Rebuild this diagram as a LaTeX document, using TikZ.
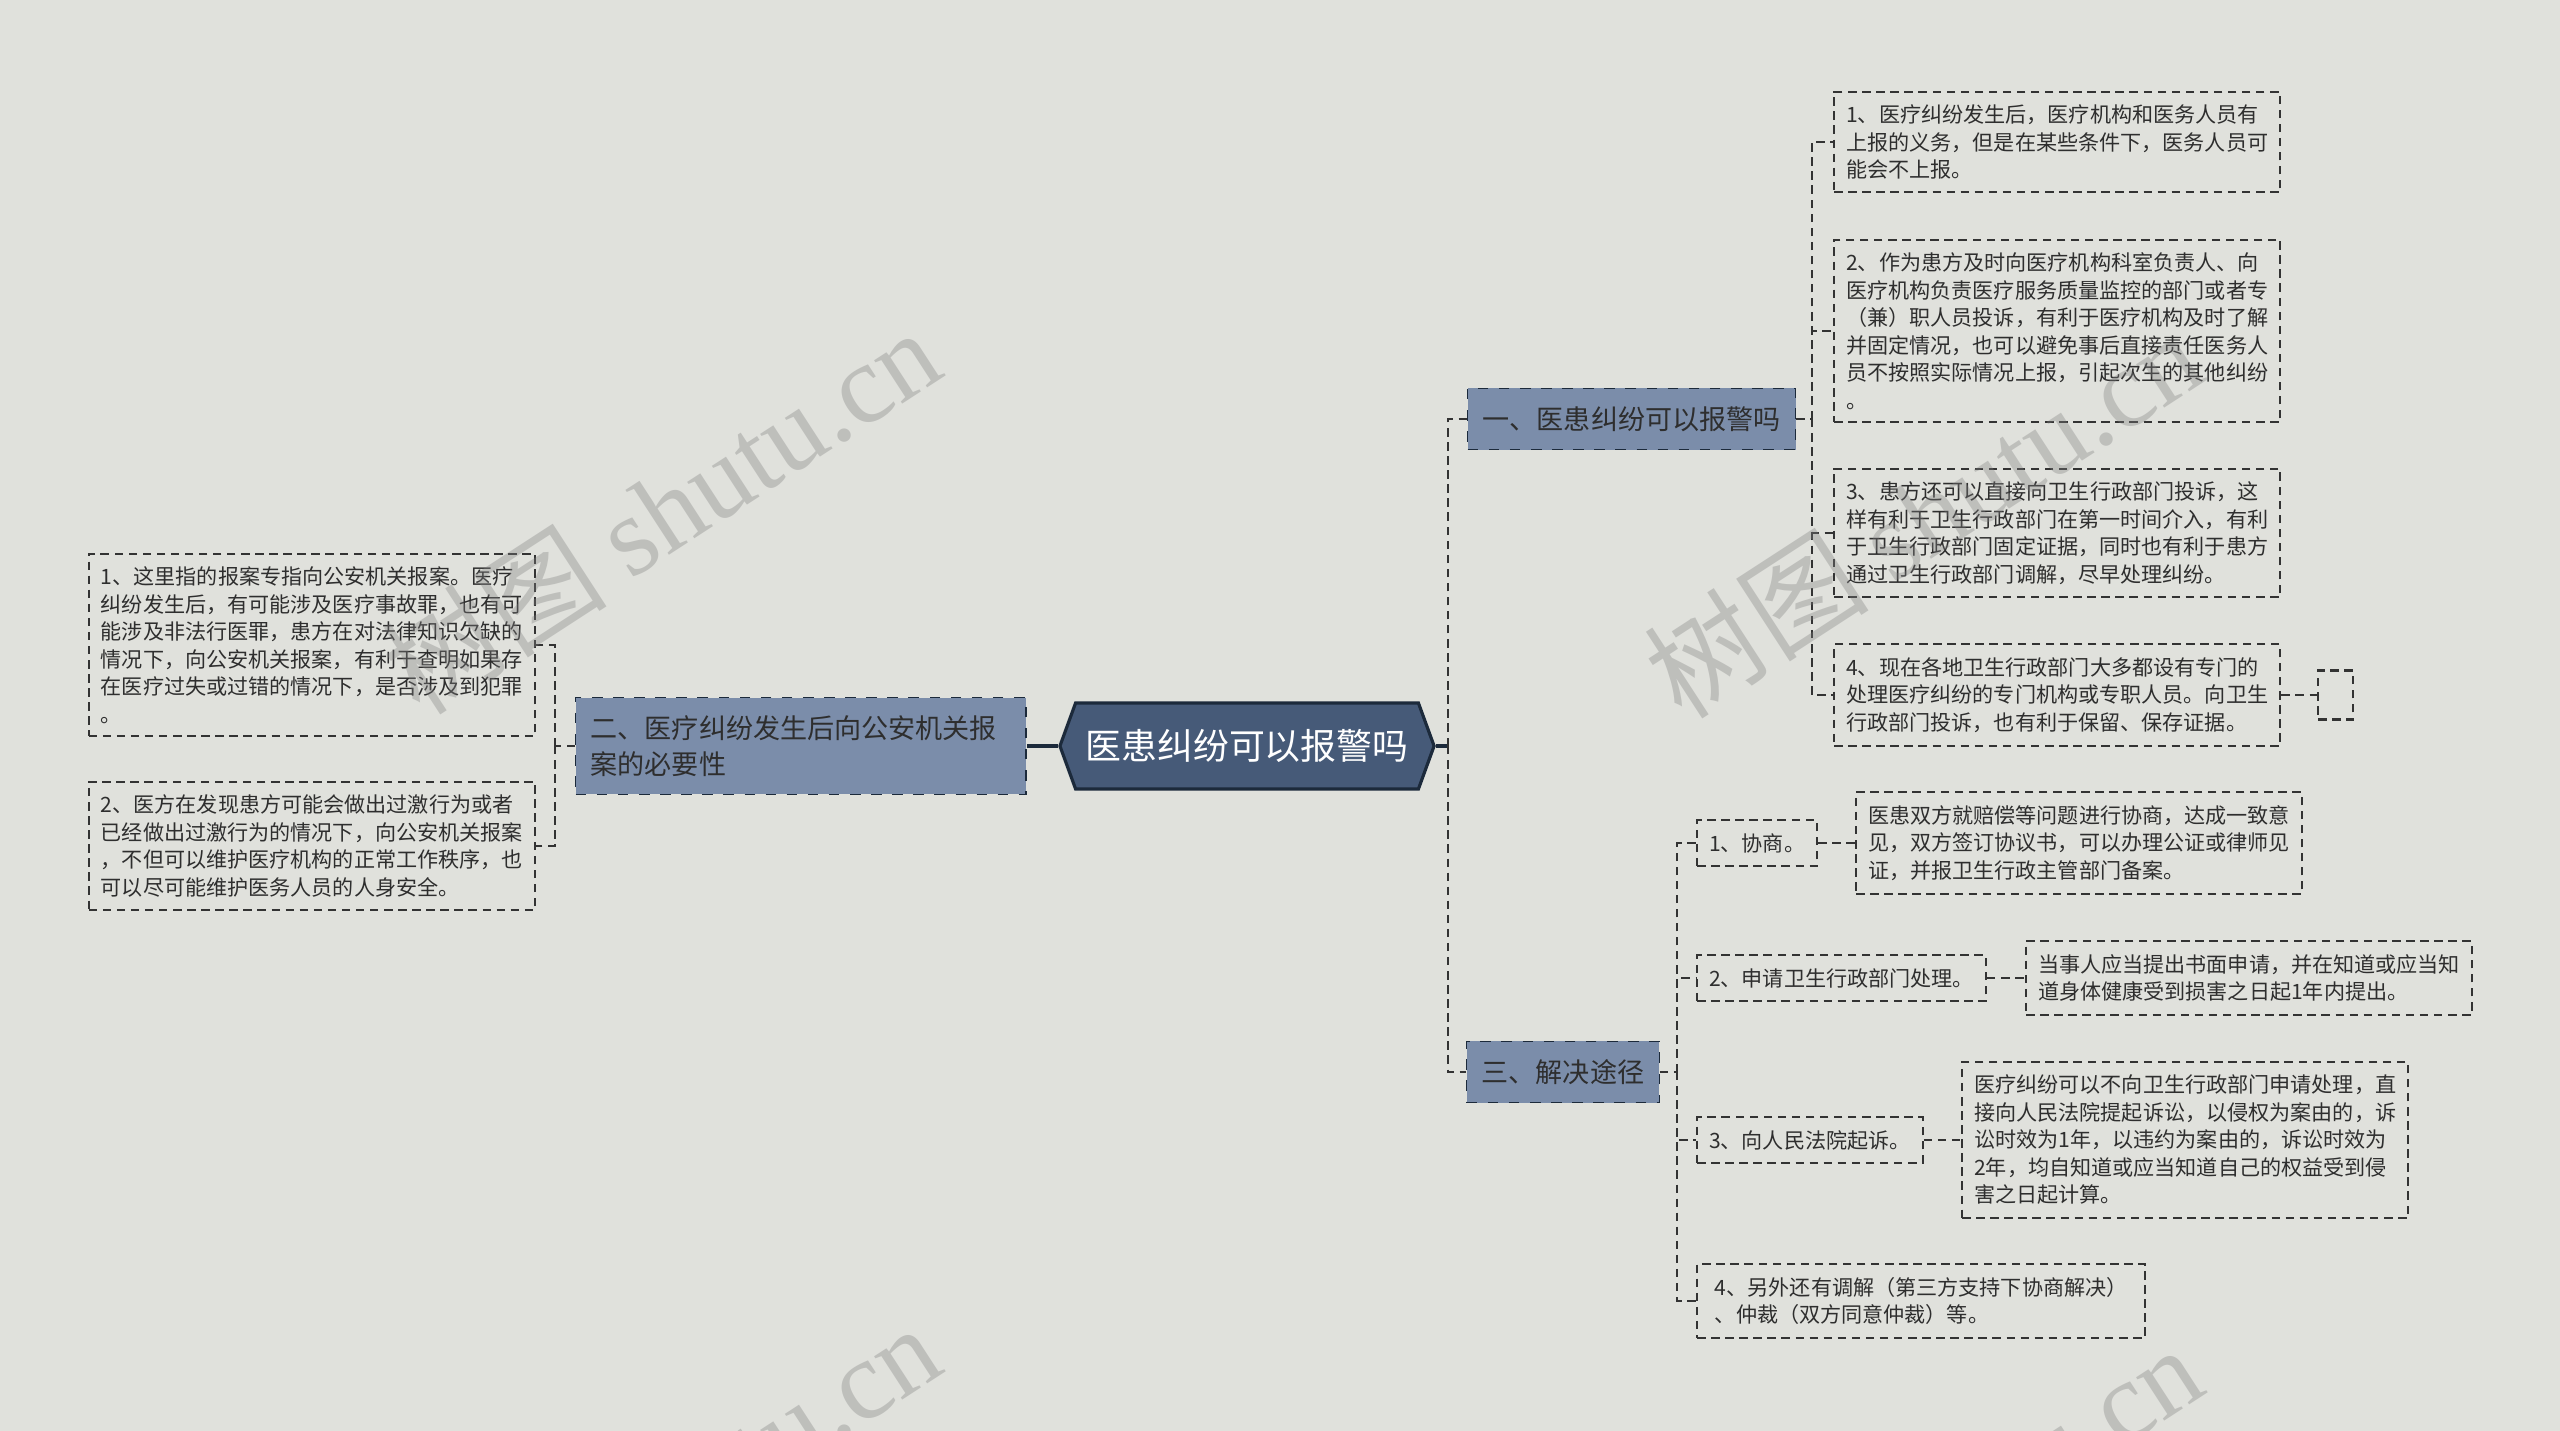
\documentclass[tikz,border=0pt]{standalone}
\usepackage{fontspec}
\setmainfont{Noto Sans CJK SC}
\newfontfamily\wmfont{Liberation Serif}
\usetikzlibrary{shapes.symbols, positioning}
\definecolor{mapbg}{HTML}{E0E1DC}
\definecolor{mapnavy}{HTML}{1C2A3B}
\definecolor{maproot}{HTML}{465A78}
\definecolor{mapbranch}{HTML}{7B8DAA}
\definecolor{mapink}{HTML}{2E2E2E}
\definecolor{mapline}{HTML}{333333}

\begin{document}
\begin{tikzpicture}[
    x=0.01cm, y=-0.01cm,
    topic/.style={shape=signal, signal to=west and east, signal pointer angle=140,
                  fill=maproot, draw=mapnavy, line width=0.9pt, text=white,
                  minimum width=3.64cm, minimum height=0.86cm, inner xsep=0.1cm,
                  font=\fontsize{10.2pt}{12pt}\selectfont},
    branch/.style={fill=mapbranch, draw=mapnavy, dashed, line width=0.4pt, text=mapink,
                   anchor=west, align=left, inner xsep=0.15cm, inner ysep=0.18cm,
                   font=\fontsize{7.7pt}{10.2pt}\selectfont},
    leaf/.style={draw=mapline, line width=0.6pt, dash pattern=on 2.4pt off 1.6pt,
                 text=mapink, anchor=west, align=left, inner xsep=0.12cm, inner ysep=0.13cm,
                 font=\fontsize{6pt}{7.82pt}\selectfont},
    link/.style={draw=mapline, line width=0.6pt, dash pattern=on 2.4pt off 1.6pt},
    rootlink/.style={draw=mapnavy, line width=0.9pt},
    wmark/.style={rotate=33, text=gray, opacity=0.35, font=\fontsize{32pt}{32pt}\selectfont},
  ]
    \useasboundingbox (0,0) rectangle (2560,1431);
    \fill[mapbg] (0,0) rectangle (2560,1431);

    \node[topic] (root) at (1247,746) {医患纠纷可以报警吗};

    \node[branch] (b1) at (1467,419) {一、医患纠纷可以报警吗};
    \node[branch, text width=4.2cm] (b2) at (575,746) {二、医疗纠纷发生后向公安机关报\\案的必要性};
    \node[branch] (b3) at (1466,1072) {三、解决途径};

    % branch one
    \node[leaf, minimum width=4.46cm] (a1) at (1833,142)
      {1、医疗纠纷发生后，医疗机构和医务人员有\\上报的义务，但是在某些条件下，医务人员可\\能会不上报。};
    \node[leaf, minimum width=4.46cm] (a2) at (1833,331)
      {2、作为患方及时向医疗机构科室负责人、向\\医疗机构负责医疗服务质量监控的部门或者专\\（兼）职人员投诉，有利于医疗机构及时了解\\并固定情况，也可以避免事后直接责任医务人\\员不按照实际情况上报，引起次生的其他纠纷\\。};
    \node[leaf, minimum width=4.46cm] (a3) at (1833,533)
      {3、患方还可以直接向卫生行政部门投诉，这\\样有利于卫生行政部门在第一时间介入，有利\\于卫生行政部门固定证据，同时也有利于患方\\通过卫生行政部门调解，尽早处理纠纷。};
    \node[leaf, minimum width=4.46cm] (a4) at (1833,695)
      {4、现在各地卫生行政部门大多都设有专门的\\处理医疗纠纷的专门机构或专职人员。向卫生\\行政部门投诉，也有利于保留、保存证据。};
    \node[leaf, minimum width=0.35cm, minimum height=0.49cm, inner sep=0pt] (a5) at (2317,695) {};

    % branch two
    \node[leaf, anchor=east, minimum width=4.46cm] (c1) at (536,645)
      {1、这里指的报案专指向公安机关报案。医疗\\纠纷发生后，有可能涉及医疗事故罪，也有可\\能涉及非法行医罪，患方在对法律知识欠缺的\\情况下，向公安机关报案，有利于查明如果存\\在医疗过失或过错的情况下，是否涉及到犯罪\\。};
    \node[leaf, anchor=east, minimum width=4.46cm] (c2) at (536,846)
      {2、医方在发现患方可能会做出过激行为或者\\已经做出过激行为的情况下，向公安机关报案\\，不但可以维护医疗机构的正常工作秩序，也\\可以尽可能维护医务人员的人身安全。};

    % branch three
    \node[leaf] (d1) at (1696,843) {1、协商。};
    \node[leaf, minimum width=4.45cm] (e1) at (1855,843)
      {医患双方就赔偿等问题进行协商，达成一致意\\见，双方签订协议书，可以办理公证或律师见\\证，并报卫生行政主管部门备案。};
    \node[leaf] (d2) at (1696,978) {2、申请卫生行政部门处理。};
    \node[leaf, minimum width=4.45cm] (e2) at (2025,978)
      {当事人应当提出书面申请，并在知道或应当知\\道身体健康受到损害之日起1年内提出。};
    \node[leaf] (d3) at (1696,1140) {3、向人民法院起诉。};
    \node[leaf, minimum width=4.46cm] (e3) at (1961,1140)
      {医疗纠纷可以不向卫生行政部门申请处理，直\\接向人民法院提起诉讼，以侵权为案由的，诉\\讼时效为1年，以违约为案由的，诉讼时效为\\2年，均自知道或应当知道自己的权益受到侵\\害之日起计算。};
    \node[leaf, minimum width=4.48cm] (d4) at (1696,1301)
      {4、另外还有调解（第三方支持下协商解决）\\、仲裁（双方同意仲裁）等。};

    \coordinate (rj) at (1448,746);
    \coordinate (j1) at (1812,419);
    \coordinate (j2) at (555,746);
    \coordinate (j3) at (1677,1072);

    \draw[rootlink] (root.west) -- (b2.east);
    \draw[rootlink] (root.east) -- (rj);
    \foreach \n in {b1,b3} \draw[link] (rj) |- (\n.west);
    \draw[link] (b1.east) -- (j1);
    \foreach \n in {a1,a2,a3,a4} \draw[link] (j1) |- (\n.west);
    \draw[link] (a4.east) -- (a5.west);
    \draw[link] (b2.west) -- (j2);
    \foreach \n in {c1,c2} \draw[link] (j2) |- (\n.east);
    \draw[link] (b3.east) -- (j3);
    \foreach \n in {d1,d2,d3,d4} \draw[link] (j3) |- (\n.west);
    \foreach \n/\m in {d1/e1,d2/e2,d3/e3} \draw[link] (\n.east) -- (\m.west);

    % watermark
    \foreach \x/\y [count=\i] in {661/510, 1923/514, 661/1506, 1923/1527}
      \node[wmark] (w\i) at (\x,\y) {树图 {\wmfont shutu.cn}};
\end{tikzpicture}
\end{document}
